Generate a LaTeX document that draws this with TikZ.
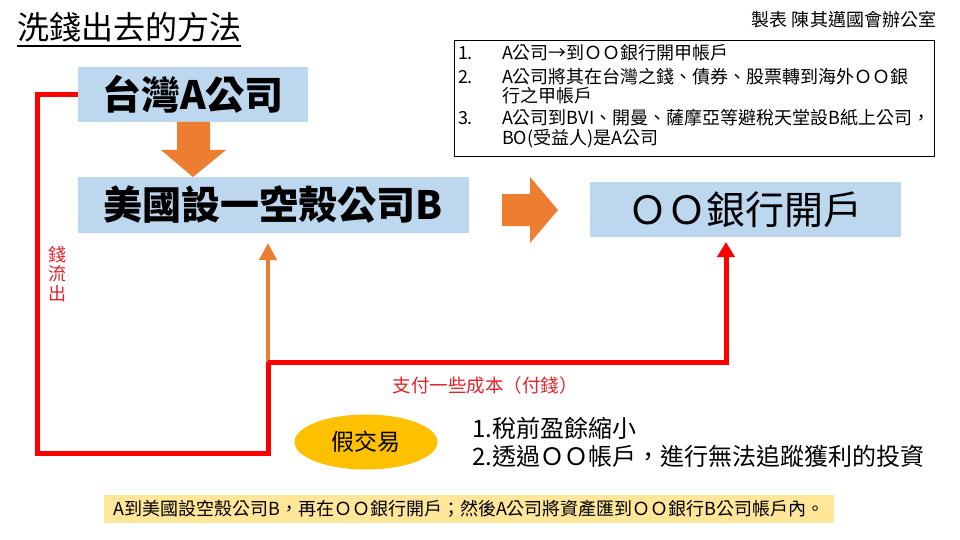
\documentclass[tikz,border=0pt]{standalone}
\usepackage{fontspec}
\setmainfont{Noto Sans CJK TC}
\usetikzlibrary{calc,shapes.geometric,arrows.meta}
\definecolor{boxblue}{HTML}{BDD7EE}
\definecolor{orng}{HTML}{ED7D31}
\definecolor{gold}{HTML}{FFC000}
\definecolor{bannerc}{HTML}{FFE699}
\definecolor{redl}{HTML}{FF0000}
\definecolor{redt}{HTML}{E3222A}
\tikzset{
  bluebox/.style={fill=boxblue, font=\fontsize{39}{39}\selectfont},
  redline/.style={draw=redl, line width=5pt},
  orangeline/.style={draw=orng, line width=4pt},
  blockarrow/.style={fill=orng, draw=none},
  listtxt/.style={anchor=west, font=\fontsize{18}{18}\selectfont},
  redtext/.style={text=redt},
}
\begin{document}
\begin{tikzpicture}[x=1pt,y=-1pt, every node/.style={inner sep=0pt, outer sep=0pt}]
\useasboundingbox[fill=white] (0,0) rectangle (960,540);

% title
\node[anchor=west, font=\fontsize{32}{32}\selectfont] (title) at (17,27) {洗錢出去的方法};
\draw[line width=1.5pt] ([yshift=-4pt]title.south west) -- ([yshift=-4pt]title.south east);
\node[anchor=east, font=\fontsize{18}{18}\selectfont] (credit) at (936,20) {製表 陳其邁國會辦公室};

% list box
\node[draw=black, line width=0.8pt, minimum width=480, minimum height=116] (list) at (694,98) {};
\node[listtxt] (n1) at (458,53) {1.};
\node[listtxt] (t1) at (502,53) {A公司→到ＯＯ銀行開甲帳戶};
\node[listtxt] (n2) at (458,77) {2.};
\node[listtxt] (t2) at (502,77) {A公司將其在台灣之錢、債券、股票轉到海外ＯＯ銀};
\node[listtxt] (t2b) at (502,96) {行之甲帳戶};
\node[listtxt] (n3) at (458,118) {3.};
\node[listtxt] (t3) at (502,118) {A公司到BVI、開曼、薩摩亞等避稅天堂設B紙上公司，};
\node[listtxt] (t3b) at (502,139) {BO(受益人)是A公司};

% blue boxes
\node[bluebox, minimum width=230, minimum height=55] (a) at (193,94.5) {\bfseries 台灣A公司};
\node[bluebox, minimum width=391, minimum height=56] (b) at (273.5,205) {\bfseries 美國設一空殼公司B};
\node[bluebox, minimum width=311, minimum height=55] (c) at (745.5,209.5) {ＯＯ銀行開戶};

% block arrow down (a -> b)
\coordinate (dtip) at (a.south |- b.north);
\fill[blockarrow]
  ($(a.south)+(-16,0)$) -- ($(a.south)+(17,0)$) -- ($(a.south)+(17,28)$)
  -- ($(a.south)+(33,28)$) -- (dtip) -- ($(a.south)+(-32,28)$)
  -- ($(a.south)+(-16,28)$) -- cycle;

% block arrow right (b -> c)
\coordinate (rtip) at (558,210);
\fill[blockarrow]
  (502,194) -- (530,194) -- (530,177) -- (rtip) -- (530,243) -- (530,226) -- (502,226) -- cycle;

% red money-out path
\coordinate (j) at (268,362);
\coordinate (bl) at (37,453);
\coordinate (br) at (268,453);
\coordinate (ct) at ([xshift=-19.5pt]c.south);
\draw[orangeline, -{Triangle[width=17pt,length=17pt]}, shorten >=10pt] (j) -- (j |- b.south);
\draw[redline, line join=miter] (a.west) -| (bl) -- (br) -- (j);
\draw[redline, -{Triangle[width=17pt,length=15pt]}, shorten >=5pt] (j) -| (ct);

% labels
\node[redtext, align=center, font=\fontsize{18}{19.5}\selectfont] (out) at (57,274) {錢\\流\\出};
\node[redtext, font=\fontsize{18.5}{18.5}\selectfont] (pay) at (485,385) {支付一些成本（付錢）};

% fake trade
\node[ellipse, fill=gold, minimum width=143, minimum height=55, font=\fontsize{23}{23}\selectfont] (fake) at (366,442) {假交易};
\node[anchor=west, font=\fontsize{24}{24}\selectfont] (e1) at (472,428) {1.稅前盈餘縮小};
\node[anchor=west, font=\fontsize{24}{24}\selectfont] (e2) at (472,456) {2.透過ＯＯ帳戶，進行無法追蹤獲利的投資};

% banner
\node[fill=bannerc, minimum width=730, minimum height=28, font=\fontsize{18}{18}\selectfont] (note) at (469,509) {A到美國設空殼公司B，再在ＯＯ銀行開戶；然後A公司將資產匯到ＯＯ銀行B公司帳戶內。};
\end{tikzpicture}
\end{document}
